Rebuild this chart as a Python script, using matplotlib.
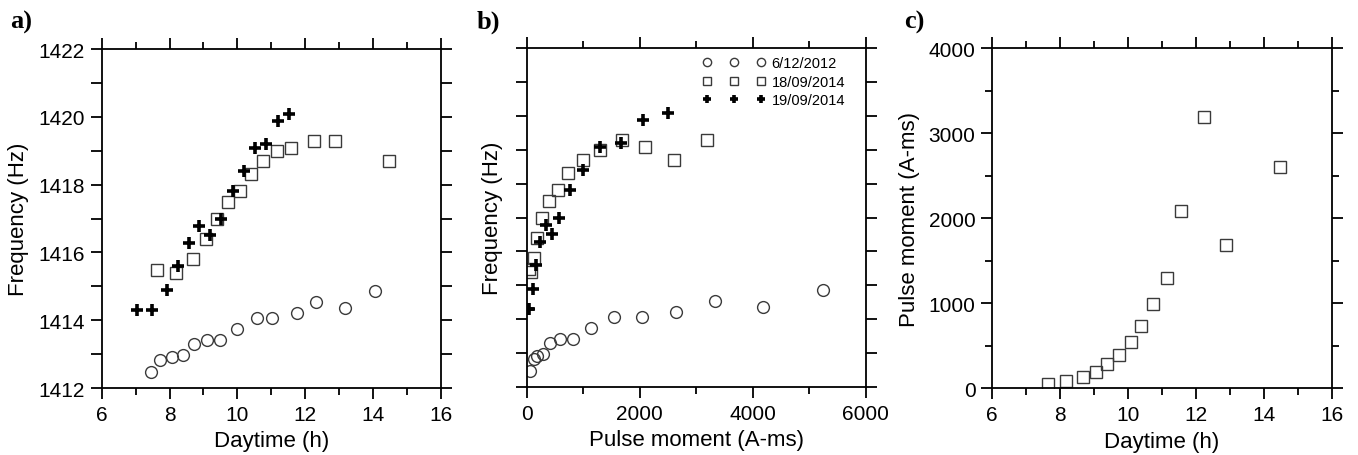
import numpy as np
import matplotlib.pyplot as plt
from matplotlib.ticker import MultipleLocator

plt.rcParams['font.family'] = ['Liberation Sans', 'DejaVu Sans']

# 6/12/2012 (circles)
day_2012 = [7.44, 7.72, 8.08, 8.39, 8.72, 9.11, 9.48, 9.98, 10.57, 11.02, 11.75, 12.31, 13.17, 14.06]
pm_2012 = [59, 130, 189, 295, 413, 590, 826, 1139, 1546, 2047, 2637, 3333, 4177, 5251]
freq_2012 = [1412.48, 1412.82, 1412.91, 1412.97, 1413.31, 1413.41, 1413.41, 1413.73,
             1414.07, 1414.07, 1414.21, 1414.54, 1414.37, 1414.86]

# 18/09/2014 (squares)
day_1809 = [7.64, 8.18, 8.68, 9.07, 9.39, 9.74, 10.08, 10.39, 10.75, 11.16, 11.57, 12.25, 12.89, 14.49]
pm_1809 = [50, 80, 130, 190, 280, 390, 550, 730, 990, 1300, 2090, 3190, 1690, 2600]
freq_1809 = [1415.49, 1415.39, 1415.81, 1416.40, 1416.99, 1417.50, 1417.80, 1418.30,
             1418.71, 1419.00, 1419.09, 1419.30, 1419.30, 1418.69]

# 19/09/2014 (crosses)
day_1909 = [7.05, 7.49, 7.94, 8.25, 8.57, 8.88, 9.19, 9.51, 9.86, 10.19, 10.53, 10.84, 11.21, 11.52]
pm_1909 = [20, 40, 106, 165, 236, 342, 448, 572, 767, 1003, 1298, 1670, 2053, 2507]
freq_1909 = [1414.29, 1414.29, 1414.88, 1415.60, 1416.27, 1416.77, 1416.50, 1416.99,
             1417.80, 1418.39, 1419.09, 1419.20, 1419.89, 1420.08]

labels = ['6/12/2012', '18/09/2014', '19/09/2014']

circ = dict(marker='o', ls='none', ms=8.5, mfc='none', mec='#3a3a3a', mew=1.0)
sqr = dict(marker='s', ls='none', ms=8.5, mfc='none', mec='#3a3a3a', mew=1.0)
crs = dict(marker='+', ls='none', ms=9, mec='black', mew=2.6)


def style(ax):
    ax.tick_params(which='both', direction='out', top=True, right=True,
                   labelsize=15, width=1.3, pad=4)
    ax.tick_params(which='major', length=8)
    ax.tick_params(which='minor', length=5)
    for s in ax.spines.values():
        s.set_linewidth(1.3)


fig = plt.figure(figsize=(13.58, 4.56), dpi=100)
ax1 = fig.add_axes([0.0749, 0.1469, 0.2496, 0.7434])
ax2 = fig.add_axes([0.3878, 0.1491, 0.2496, 0.7434])
ax3 = fig.add_axes([0.7307, 0.1463, 0.2499, 0.7456])

# a)
ax1.plot(day_2012, freq_2012, **circ)
ax1.plot(day_1809, freq_1809, **sqr)
ax1.plot(day_1909, freq_1909, **crs)
ax1.set_xlim(6, 16)
ax1.set_ylim(1412, 1422)
ax1.xaxis.set_major_locator(MultipleLocator(2))
ax1.xaxis.set_minor_locator(MultipleLocator(1))
ax1.yaxis.set_major_locator(MultipleLocator(2))
ax1.yaxis.set_minor_locator(MultipleLocator(1))
ax1.set_xlabel('Daytime (h)', fontsize=16)
ax1.set_ylabel('Frequency (Hz)', fontsize=16)
style(ax1)
ax1.tick_params(axis='y', which='minor', length=8)
ax1.yaxis.set_label_coords(-0.215, 0.5)
ax1.xaxis.set_label_coords(0.5, -0.125)

# b)
ax2.plot(pm_2012, freq_2012, label=labels[0], **circ)
ax2.plot(pm_1809, freq_1809, label=labels[1], **sqr)
ax2.plot(pm_1909, freq_1909, label=labels[2], **crs)
ax2.set_xlim(0, 6000)
ax2.set_ylim(1412, 1422)
ax2.xaxis.set_major_locator(MultipleLocator(2000))
ax2.xaxis.set_minor_locator(MultipleLocator(1000))
ax2.yaxis.set_major_locator(MultipleLocator(1))
ax2.set_yticklabels([])
ax2.set_xlabel('Pulse moment (A-ms)', fontsize=16)
ax2.set_ylabel('Frequency (Hz)', fontsize=16)
style(ax2)
ax2.yaxis.set_label_coords(-0.07, 0.5)
ax2.xaxis.set_label_coords(0.5, -0.125)
ax2.legend(loc='upper left', numpoints=3, frameon=False, fontsize=10.5,
           markerscale=0.7, handlelength=4.3, handletextpad=0.45,
           labelspacing=0.3, borderaxespad=0, borderpad=0,
           bbox_to_anchor=(0.518, 0.975))

# c)
ax3.plot(day_1809, pm_1809, **sqr)
ax3.set_xlim(6, 16)
ax3.set_ylim(0, 4000)
ax3.xaxis.set_major_locator(MultipleLocator(2))
ax3.xaxis.set_minor_locator(MultipleLocator(1))
ax3.yaxis.set_major_locator(MultipleLocator(1000))
ax3.yaxis.set_minor_locator(MultipleLocator(500))
ax3.set_xlabel('Daytime (h)', fontsize=16)
ax3.set_ylabel('Pulse moment (A-ms)', fontsize=16)
style(ax3)
ax3.yaxis.set_label_coords(-0.212, 0.5)
ax3.xaxis.set_label_coords(0.5, -0.125)

for x, t in [(10, 'a)'), (477, 'b)'), (904, 'c)')]:
    fig.text(x / 1358, 1 - 11 / 456, t, fontsize=19, fontweight='bold',
             family='Liberation Serif', va='top', ha='left')

fig.savefig('out.png', dpi=100)
